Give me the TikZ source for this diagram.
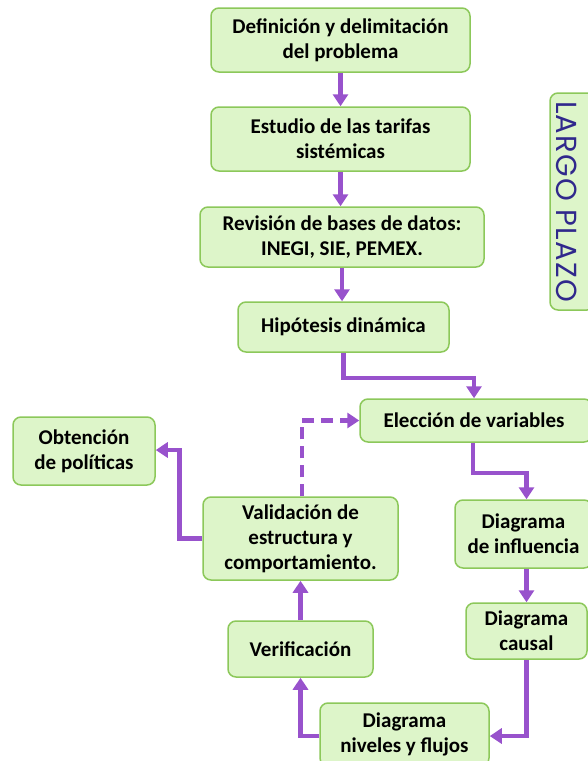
\documentclass[tikz,border=0pt]{standalone}
\usepackage{fontspec}
\setmainfont{Carlito}
\newfontfamily\lpfont[LetterSpace=4]{Poppins}
\usetikzlibrary{arrows.meta}
\definecolor{boxfill}{RGB}{221,245,201}
\definecolor{boxline}{RGB}{140,200,90}
\definecolor{arr}{RGB}{152,82,204}
\definecolor{navy}{RGB}{48,40,140}
\begin{document}
\begin{tikzpicture}[x=1pt,y=-1pt,
  box/.style={draw=boxline, fill=boxfill, line width=1.5pt, rounded corners=8pt,
    align=center, inner sep=0pt, font=\bfseries\fontsize{21}{25}\selectfont},
  flow/.style={draw=arr, line width=4.5pt, -{Triangle[width=15pt,length=12pt]}},
  dflow/.style={flow, dash pattern=on 12pt off 7pt}]
\useasboundingbox (0,0) rectangle (588,761);
\node[box, minimum width=259pt, minimum height=64pt] (def) at (340.5,40) {Definición y delimitación\\del problema};
\node[box, minimum width=259pt, minimum height=64pt] (est) at (340.5,139) {Estudio de las tarifas\\sistémicas};
\node[box, minimum width=284pt, minimum height=60pt] (rev) at (342,237) {Revisión de bases de datos:\\INEGI, SIE, PEMEX.};
\node[box, minimum width=211pt, minimum height=50pt] (hip) at (343.5,327) {Hipótesis dinámica};
\node[box, minimum width=232pt, minimum height=43pt] (ele) at (476,420.5) {\hspace*{-4pt}Elección de variables};
\node[box, minimum width=137pt, minimum height=68pt] (inf) at (523.5,534) {Diagrama\\de influencia};
\node[box, minimum width=121pt, minimum height=56pt] (cau) at (526.5,631) {Diagrama\\causal};
\node[box, minimum width=169pt, minimum height=63pt] (niv) at (404.5,734.5) {Diagrama\\niveles y flujos};
\node[box, minimum width=145pt, minimum height=56pt] (ver) at (300.5,649) {Verificación};
\node[box, minimum width=195pt, minimum height=83pt] (val) at (300.5,538.5) {Validación de\\estructura y\\comportamiento.};
\node[box, minimum width=142pt, minimum height=68pt] (obt) at (84,451) {Obtención\\de políticas};
\node[draw=boxline, fill=boxfill, line width=1.5pt, rounded corners=8pt,
  minimum width=45pt, minimum height=217pt] (lpbox) at (572.5,201.5) {};
\node[rotate=-90, text=navy, font=\lpfont\fontsize{29}{32}\selectfont, inner sep=0pt] (lp) at (566.5,201.5) {LARGO PLAZO};
\draw[flow] (def.south) -- (est.north);
\draw[flow] (est.south) -- (est.south |- rev.north);
\draw[flow] (rev.south) -- (rev.south |- hip.north);
\draw[flow] (hip.south) -- ++(0,25) -| ([xshift=-2pt]ele.north);
\draw[flow] ([xshift=-3pt]ele.south) -- ++(0,30) -| (cau.north |- inf.north);
\draw[flow] (cau.north |- inf.south) -- (cau.north);
\draw[flow] (cau.south) |- ([yshift=-1.5pt]niv.east);
\draw[flow] ([yshift=-1.5pt]niv.west) -| (ver.south);
\draw[flow] (ver.north) -- (val.south);
\draw[flow] (val.west) -- ++(-23,0) |- ([yshift=1pt]obt.east);
\draw[dflow] ([xshift=1.5pt]val.north) |- (ele.west);
\end{tikzpicture}
\end{document}
